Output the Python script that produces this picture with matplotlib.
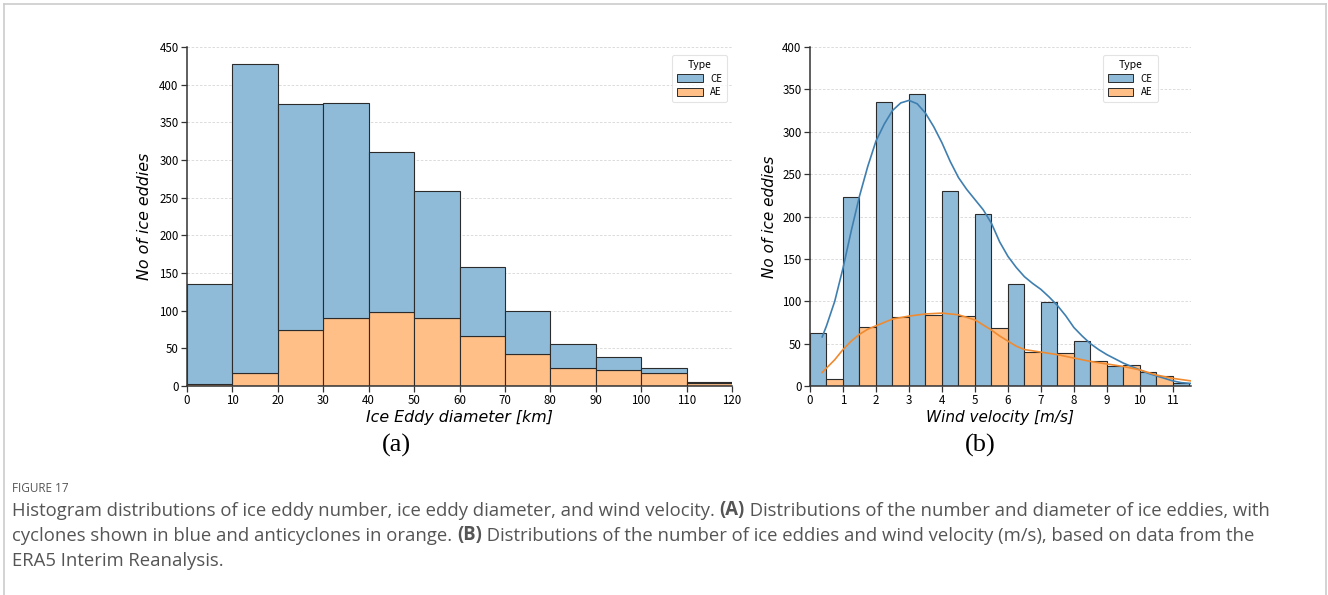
import numpy as np
import matplotlib
matplotlib.use("Agg")
import matplotlib.pyplot as plt
from matplotlib.patches import Patch
from matplotlib.lines import Line2D

# (a) stacked histogram of eddy diameter, 10 km bins
diam_edges = np.arange(0, 130, 10)
diam_ae = [3, 17, 74, 90, 98, 90, 66, 43, 24, 21, 17, 4]
diam_ce = [132, 411, 301, 286, 213, 169, 92, 57, 32, 17, 7, 1]

# (b) dodged histogram of wind velocity, 1 m/s bins
wind_bins = np.arange(0, 12)
wind_ce = [63, 223, 335, 345, 230, 203, 120, 99, 53, 24, 16, 3]
wind_ae = [8, 70, 82, 84, 83, 69, 40, 39, 29, 25, 12, 0]

# kde curves
kde_ce_x = [0.37, 0.5, 0.75, 1, 1.25, 1.5, 1.75, 2, 2.25, 2.5, 2.75, 3, 3.25,
            3.5, 3.75, 4, 4.25, 4.5, 4.75, 5, 5.25, 5.5, 5.75, 6, 6.25, 6.5,
            6.75, 7, 7.25, 7.5, 7.75, 8, 8.25, 8.5, 8.75, 9, 9.25, 9.5, 9.75,
            10, 10.25, 10.5, 10.75, 11, 11.25, 11.55]
kde_ce = [58, 71, 100, 139, 183, 224, 259, 289, 309, 325, 334, 337, 333,
          322, 306, 287, 265, 246, 232, 220, 208, 192, 170, 153, 140, 129,
          121, 114, 105, 95, 83, 69, 59, 50, 43, 37, 32, 27, 23,
          19, 15, 12, 9, 6, 4, 3]
kde_ae_x = [0.37, 0.75, 1, 1.25, 1.5, 1.75, 2, 2.5, 3, 3.5, 4, 4.5, 5, 5.25,
            5.5, 5.75, 6, 6.25, 6.5, 7, 7.5, 8, 8.5, 9, 9.5, 10, 10.5, 11, 11.55]
kde_ae = [16, 31, 43, 53, 61, 67, 71, 79, 82.5, 85, 86, 84, 78, 72,
          66, 59, 53, 47, 43, 40, 37, 33, 29, 26, 23, 19, 13, 9, 6]

CE_FILL = "#8fbbd9"
AE_FILL = "#ffbf86"
EDGE = "#2b2b2b"
TICK_FONT = ["Noto Sans CJK SC", "DejaVu Sans"]

W, H = 1328, 595
fig = plt.figure(figsize=(W / 100, H / 100), dpi=100)


def px(x0, y0, x1, y1):
    # pixel box -> figure fraction [left, bottom, width, height]
    return [x0 / W, 1 - y1 / H, (x1 - x0) / W, (y1 - y0) / H]


def style_axes(ax, ymax, ystep):
    ax.set_ylim(0, ymax)
    ax.set_yticks(np.arange(0, ymax + 1, ystep))
    for s in ["top", "right"]:
        ax.spines[s].set_visible(False)
    for s in ["left", "bottom"]:
        ax.spines[s].set_color("#333333")
        ax.spines[s].set_linewidth(1.1)
    ax.tick_params(length=4, width=0.9, color="#333333", labelsize=8.3, pad=2)
    for lab in ax.get_xticklabels() + ax.get_yticklabels():
        lab.set_family(TICK_FONT)
    ax.set_axisbelow(True)
    ax.yaxis.grid(True, linestyle=(0, (3, 2)), color="#d6d6d6", linewidth=0.6)


def add_legend(ax, anchor):
    handles = [Patch(facecolor=CE_FILL, edgecolor=EDGE, linewidth=0.7, label="CE"),
               Patch(facecolor=AE_FILL, edgecolor=EDGE, linewidth=0.7, label="AE")]
    leg = ax.legend(handles=handles, title="Type", loc="upper right",
                    bbox_to_anchor=anchor, prop={"family": TICK_FONT, "size": 7},
                    title_fontproperties={"family": TICK_FONT, "size": 7.5},
                    frameon=True, fancybox=True, edgecolor="#dddddd",
                    handlelength=2.6, handleheight=0.9, borderpad=0.5,
                    labelspacing=0.35, handletextpad=0.8)
    leg.get_frame().set_linewidth(0.8)


# ---- (a) ----
ax1 = fig.add_axes(px(187, 47, 732, 386))
lefts = diam_edges[:-1]
widths = np.diff(diam_edges)
ax1.bar(lefts, diam_ae, width=widths, align="edge", color=AE_FILL,
        edgecolor=EDGE, linewidth=0.8)
ax1.bar(lefts, diam_ce, width=widths, bottom=diam_ae, align="edge",
        color=CE_FILL, edgecolor=EDGE, linewidth=0.8)
ax1.set_xlim(0, 120)
ax1.set_xticks(diam_edges)
style_axes(ax1, 450, 50)
ax1.set_xlabel("Ice Eddy diameter [km]", fontsize=11.4, style="italic", labelpad=2)
ax1.set_ylabel("No of ice eddies", fontsize=11.4, style="italic", labelpad=5)
add_legend(ax1, (1.0, 0.99))

# ---- (b) ----
ax2 = fig.add_axes(px(810, 47, 1191, 386))
ax2.bar(wind_bins, wind_ce, width=0.5, align="edge", color=CE_FILL,
        edgecolor=EDGE, linewidth=0.8)
ax2.bar(wind_bins + 0.5, wind_ae, width=0.5, align="edge", color=AE_FILL,
        edgecolor=EDGE, linewidth=0.8)
ax2.plot(kde_ce_x, kde_ce, color="#3f7fb0", linewidth=1.2)
ax2.plot(kde_ae_x, kde_ae, color="#f08a30", linewidth=1.2)
ax2.set_xlim(0, 11.55)
ax2.set_xticks(wind_bins)
style_axes(ax2, 400, 50)
ax2.set_xlabel("Wind velocity [m/s]", fontsize=11, style="italic", labelpad=2)
ax2.set_ylabel("No of ice eddies", fontsize=11, style="italic", labelpad=4)
add_legend(ax2, (0.925, 0.99))

# panel letters
fig.text(396 / W, 1 - 445 / H, "(a)", family="Liberation Serif", fontsize=19,
         ha="center", va="center")
fig.text(980 / W, 1 - 445 / H, "(b)", family="Liberation Serif", fontsize=19,
         ha="center", va="center")

# caption
cap = fig.add_axes([0, 0, 1, 1])
cap.set_axis_off()
cap.set_xlim(0, W)
cap.set_ylim(H, 0)
cap.text(12, 489, "FIGURE 17", family="Open Sans", fontsize=8.5, color="#555555",
         va="center")

CAP_COLOR = "#555555"
CAP_SIZE = 13.35
lines = [
    [("Histogram distributions of ice eddy number, ice eddy diameter, and wind velocity. ", "normal"),
     ("(A)", "bold"),
     (" Distributions of the number and diameter of ice eddies, with", "normal")],
    [("cyclones shown in blue and anticyclones in orange. ", "normal"),
     ("(B)", "bold"),
     (" Distributions of the number of ice eddies and wind velocity (m/s), based on data from the", "normal")],
    [("ERA5 Interim Reanalysis.", "normal")],
]
for i, parts in enumerate(lines):
    y = 511 + 25 * i
    prev = None
    for txt, wt in parts:
        if prev is None:
            prev = cap.text(12, y, txt, family="Open Sans", fontsize=CAP_SIZE,
                            weight=wt, color=CAP_COLOR, va="center")
        else:
            prev = cap.annotate(txt, xy=(1, 0), xycoords=prev, va="bottom",
                                ha="left", family="Open Sans", fontsize=CAP_SIZE,
                                weight=wt, color=CAP_COLOR)

# light frame around the figure card
for xs, ys in [((4, 4), (4, H)), ((4, 1326), (4, 4)), ((1326, 1326), (4, H))]:
    cap.add_line(Line2D(xs, ys, color="#cccccc", linewidth=1.2))

fig.savefig("out.png", dpi=100)
